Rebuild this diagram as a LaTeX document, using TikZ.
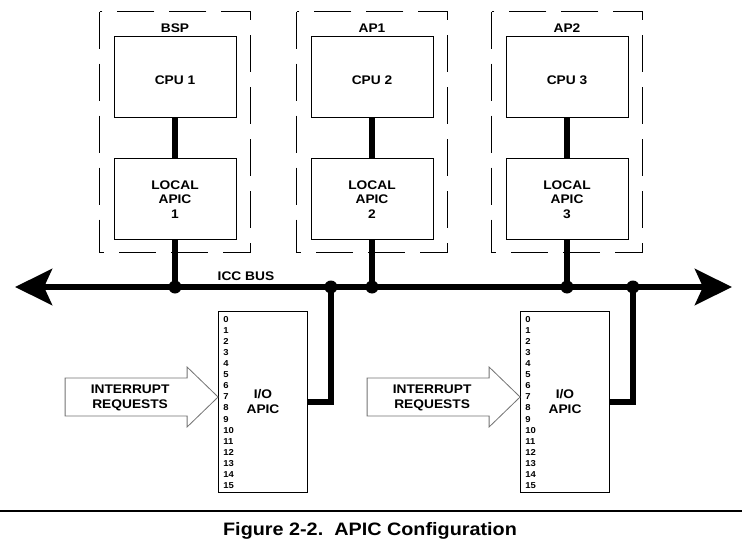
\documentclass[tikz,border=0pt]{standalone}
\usepackage{fontspec}
\setmainfont{Liberation Sans}[FakeStretch=1.1]
\usetikzlibrary{arrows.meta,% stealth heads on the bus
positioning}%               local apic below its cpu
\tikzset{every node/.style={font=\bfseries\fontsize{12.5}{14.5}\selectfont}}
\tikzset{unitbox/.style={draw,line width=0.8pt,minimum width=122pt,
    minimum height=81pt,inner sep=0pt,align=center},
  iobox/.style={draw,line width=0.8pt,minimum width=89pt,
    minimum height=181pt,inner sep=0pt,align=center},
  procframe/.style={line width=0.9pt,dash pattern=on 37pt off 15pt},
  link/.style={line width=6pt},
  bus/.style={line width=6pt,
    arrows={Stealth[length=37pt,width=36pt,inset=8pt]-Stealth[length=37pt,width=36pt,inset=8pt]}},
  junction/.style={circle,fill,inner sep=0pt,minimum size=13pt},
  pinno/.style={font=\bfseries\fontsize{8.6}{9}\selectfont,inner sep=0pt,anchor=west},
  irqshape/.style={draw=black!55,line width=0.8pt,fill=white}}
\newcommand{\irqarrow}[2]
{\draw[irqshape] (#1) -- ++(-31,-30) -- ++(0,11) -- ++(-122,0) -- ++(0,38)
    -- ++(122,0) -- ++(0,11) -- cycle;
  \node[align=center] (#2) at ([shift={(-88,1)}]#1) {INTERRUPT\\REQUESTS};}

\begin{document}
\begin{tikzpicture}[x=1pt,y=-1pt]
\useasboundingbox (0,0) rectangle (742,554);
% the bus
\coordinate (busL) at (15,287);
\coordinate (busR) at (732,287);
\draw[bus] (busL) -- (busR);
\node at (246,276) {ICC BUS};
% processors
\foreach \i/\x/\role in {1/175/BSP,2/372/AP1,3/567/AP2}
{
  \node[unitbox,text height=16pt] (cpu\i) at (\x,76.5) {CPU \i};
  \node[inner sep=0pt,above=3pt of cpu\i] (role\i) {\role};
  \node[unitbox,below=41pt of cpu\i] (lapic\i) {LOCAL\\APIC\\\i};
  \draw[procframe] ([shift={(-14,-24)}]cpu\i.north west) 
      rectangle ([shift={(14,12)}]lapic\i.south east);
  \coordinate (tap\i) at (lapic\i.south |- busL);
  \draw[link] (cpu\i) -- (lapic\i);
  \draw[link] (lapic\i) -- (tap\i);
  \node[junction] at (tap\i) {};
}
% i/o apics
\node[iobox] (io1) at (263,401.5) {I/O\\APIC};
\node[iobox] (io2) at (565,401.5) {I/O\\APIC};
\foreach \i in {1,2}
{
  \foreach \n in {0,...,15}
    \node[pinno] at ([shift={(5,9+11.05*\n)}]io\i.north west) {\n};
  \coordinate (ioc\i) at ([xshift=23pt]io\i.east);
  \coordinate (iotap\i) at (ioc\i |- busL);
  \draw[link] (io\i.east) -- (ioc\i) -- (iotap\i);
  \node[junction] at (iotap\i) {};
  \coordinate (tip\i) at ([yshift=4.5pt]io\i.west);
  \irqarrow{tip\i}{irq\i}
}
% caption
\draw[line width=2pt] (0,511) -- (742,511);
\node[anchor=base,font=\bfseries\fontsize{18}{20}\selectfont] (caption) at (370,535)
    {Figure 2-2.\ \ APIC Configuration};
\end{tikzpicture}
\end{document}
